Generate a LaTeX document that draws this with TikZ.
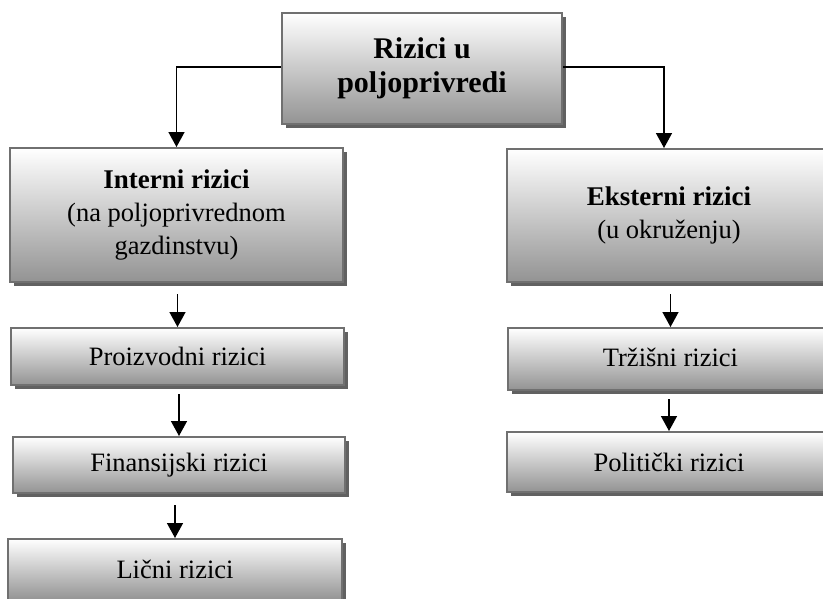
\documentclass[tikz,border=0pt]{standalone}
\usepackage{fontspec}
\setmainfont{Liberation Serif}
\usetikzlibrary{arrows.meta,shadows}
\definecolor{boxborder}{HTML}{707070}
\definecolor{boxbottom}{HTML}{939393}
\tikzset{
  riskbox/.style={rectangle, draw=boxborder, line width=2pt, inner sep=0pt,
    top color=white, bottom color=boxbottom, align=center,
    drop shadow={shadow xshift=3.5pt, shadow yshift=-3.5pt, fill=black!62, opacity=1}},
  regtext/.style={font=\fontsize{26.5}{33}\selectfont},
  arr/.style={draw=black, line width=1.5pt, -{Triangle[width=16pt,length=15pt]}}
}
\begin{document}
\begin{tikzpicture}[x=1pt,y=-1pt]
\useasboundingbox (0,0) rectangle (823,598);
\clip (0,0) rectangle (823,598);
\node[riskbox, minimum width=280pt, minimum height=111pt,
      font=\fontsize{30}{35}\selectfont\bfseries] (top) at (422,68.5)
      {\raisebox{4pt}{\begin{tabular}{@{}c@{}}Rizici u\\[-1pt]poljoprivredi\end{tabular}}};
\node[riskbox, regtext, minimum width=333pt, minimum height=134pt] (int) at (176.5,215)
      {{\fontsize{27}{33}\selectfont\bfseries Interni rizici}\\(na poljoprivrednom\\gazdinstvu)};
\node[riskbox, regtext, minimum width=324pt, minimum height=133pt] (ext) at (669,215.5)
      {{\fontsize{27}{33}\selectfont\bfseries Eksterni rizici}\\(u okruženju)};
\node[riskbox, regtext, minimum width=333pt, minimum height=57pt] (pro) at (177.5,356.5)
      {\raisebox{-4pt}{Proizvodni rizici}};
\node[riskbox, regtext, minimum width=332pt, minimum height=56pt] (fin) at (179,465)
      {Finansijski rizici};
\node[riskbox, regtext, minimum width=334pt, minimum height=61pt] (lic) at (175,569.5)
      {Lični rizici};
\node[riskbox, regtext, minimum width=325pt, minimum height=62pt] (trz) at (670.5,359)
      {\raisebox{3pt}{Tržišni rizici}};
\node[riskbox, regtext, minimum width=324pt, minimum height=60pt] (pol) at (669,462)
      {Politički rizici};
\draw[arr] ([yshift=1.5pt]top.west) -| (int.north);
\draw[arr] ([yshift=1.5pt]top.east) -| ([xshift=-5pt]ext.north);
\draw[arr, shorten <=11pt] (int.south -| pro.north) -- (pro.north);
\draw[arr, shorten <=8pt] (pro.south -| fin.north) -- (fin.north);
\draw[arr, shorten <=11pt] (fin.south -| lic.north) -- (lic.north);
\draw[arr, shorten <=11pt] (ext.south -| trz.north) -- (trz.north);
\draw[arr, shorten <=8pt] (trz.south -| pol.north) -- (pol.north);
\end{tikzpicture}
\end{document}
